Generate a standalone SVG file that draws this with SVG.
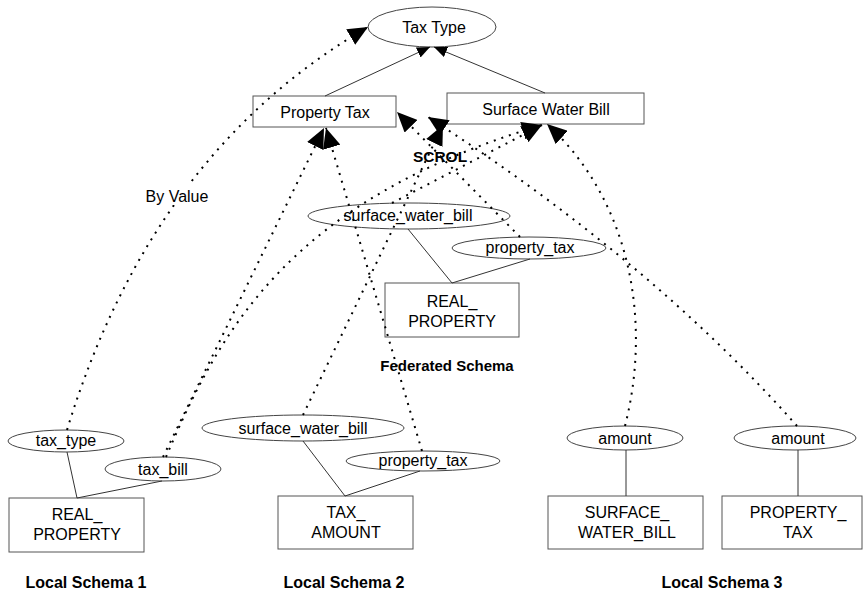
<svg xmlns="http://www.w3.org/2000/svg" width="864" height="594" viewBox="0 0 864 594">
  <style>
    .box { fill: #fff; stroke: #555; stroke-width: 1; }
    .oval { fill: #fff; stroke: #444; stroke-width: 1; }
    .link { fill: none; stroke: #333; stroke-width: 1; }
    .map { fill: none; stroke: #000; stroke-width: 2; stroke-dasharray: 2 6; marker-end: url(#big); }
    .isa { fill: none; stroke: #333; stroke-width: 1; marker-end: url(#small); }
    text { font-family: "Liberation Sans", Arial, sans-serif; font-size: 16px; text-anchor: middle; fill: #000; }
    .head { font-weight: bold; }
  </style>
  <defs>
    <marker id="big" markerUnits="userSpaceOnUse" markerWidth="20" markerHeight="18" refX="20" refY="9" orient="auto">
      <path d="M0,0 L20,9 L0,18 z" fill="#000"/>
    </marker>
    <marker id="small" markerUnits="userSpaceOnUse" markerWidth="13" markerHeight="11" refX="13" refY="5.5" orient="auto">
      <path d="M0,0 L13,5.5 L0,11 z" fill="#000"/>
    </marker>
  </defs>

  <rect width="864" height="594" fill="#fff"/>

  <!-- SCROL ontology -->
  <g id="tax-type">
    <ellipse class="oval" cx="432" cy="27" rx="64" ry="20"/>
    <text x="434" y="33">Tax Type</text>
  </g>
  <g id="property-tax">
    <rect class="box" x="253" y="96" width="143" height="31"/>
    <text x="325" y="118">Property Tax</text>
  </g>
  <g id="surface-water-bill">
    <rect class="box" x="447" y="93" width="197" height="31"/>
    <text x="546" y="115">Surface Water Bill</text>
  </g>

  <!-- Federated schema -->
  <g id="fs-surface-water-bill">
    <ellipse class="oval" cx="409" cy="216" rx="101" ry="13"/>
    <text x="408" y="221">surface_water_bill</text>
  </g>
  <g id="fs-property-tax">
    <ellipse class="oval" cx="529" cy="248" rx="77" ry="11"/>
    <text x="530" y="253">property_tax</text>
  </g>
  <g id="fs-real-property">
    <rect class="box" x="385" y="283" width="134" height="54"/>
    <text x="452" y="307">REAL_</text>
    <text x="452" y="327">PROPERTY</text>
  </g>

  <!-- Local schema 1 -->
  <g id="ls1-tax-type">
    <ellipse class="oval" cx="66" cy="441" rx="58" ry="11"/>
    <text x="66" y="446">tax_type</text>
  </g>
  <g id="ls1-tax-bill">
    <ellipse class="oval" cx="163" cy="469" rx="58" ry="12"/>
    <text x="163" y="475">tax_bill</text>
  </g>
  <g id="ls1-real-property">
    <rect class="box" x="9" y="498" width="135" height="54"/>
    <text x="77" y="520">REAL_</text>
    <text x="77" y="540">PROPERTY</text>
  </g>

  <!-- Local schema 2 -->
  <g id="ls2-surface-water-bill">
    <ellipse class="oval" cx="303" cy="428" rx="101" ry="13"/>
    <text x="303" y="434">surface_water_bill</text>
  </g>
  <g id="ls2-property-tax">
    <ellipse class="oval" cx="423" cy="461" rx="77" ry="10"/>
    <text x="423" y="466">property_tax</text>
  </g>
  <g id="ls2-tax-amount">
    <rect class="box" x="278" y="496" width="135" height="53"/>
    <text x="346" y="518">TAX_</text>
    <text x="346" y="538">AMOUNT</text>
  </g>

  <!-- Local schema 3 -->
  <g id="ls3-amount-swb">
    <ellipse class="oval" cx="625" cy="438" rx="58" ry="12"/>
    <text x="625" y="444">amount</text>
  </g>
  <g id="ls3-amount-pt">
    <ellipse class="oval" cx="795" cy="438" rx="61" ry="12"/>
    <text x="798" y="444">amount</text>
  </g>
  <g id="ls3-surface-water-bill">
    <rect class="box" x="548" y="496" width="155" height="53"/>
    <text x="627" y="518">SURFACE_</text>
    <text x="627" y="538">WATER_BILL</text>
  </g>
  <g id="ls3-property-tax">
    <rect class="box" x="722" y="496" width="140" height="53"/>
    <text x="798" y="518">PROPERTY_</text>
    <text x="798" y="538">TAX</text>
  </g>

  <g id="connectors">
    <!-- generalisation -->
    <path class="isa" d="M325,96 L430,47"/>
    <path class="isa" d="M545,93 L434,47"/>
    <!-- attribute links -->
    <path class="link" d="M408,229 L452,283 M530,259 L452,283"/>
    <path class="link" d="M67,452 L77,498 M162,481 L77,498"/>
    <path class="link" d="M303,441 L345,496 M420,471 L345,496"/>
    <path class="link" d="M626,450 L626,496 M798,450 L798,496"/>
    <!-- semantic mappings -->
    <path class="map" d="M67,430 Q152,152 368,27"/>
    <path class="map" d="M163,457 L324,128"/>
    <path class="map" d="M166,457 C220,330 290,200 542,125"/>
    <path class="map" d="M392,203 L542,125"/>
    <path class="map" d="M303,415 L443,125"/>
    <path class="map" d="M422,451 L326,128"/>
    <path class="map" d="M520,237 L397,112"/>
    <path class="map" d="M625,426 C652,320 630,200 547,124"/>
    <path class="map" d="M797,426 Q650,260 428,117"/>
  </g>

  <g id="labels">
    <rect x="143" y="183" width="70" height="22" fill="#fff"/>
    <text x="177" y="202">By Value</text>
    <text class="head" x="440" y="162" style="font-size:15.5px">SCROL</text>
    <text class="head" x="447" y="371" style="font-size:15px">Federated Schema</text>
    <text class="head" x="86" y="588">Local Schema 1</text>
    <text class="head" x="344" y="588">Local Schema 2</text>
    <text class="head" x="722" y="588">Local Schema 3</text>
  </g>
</svg>
